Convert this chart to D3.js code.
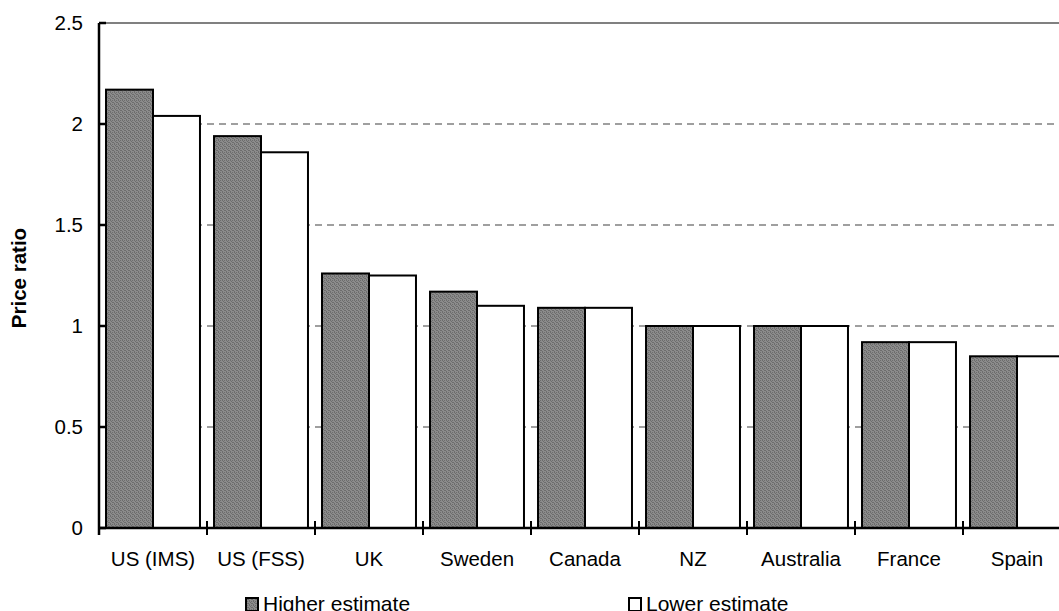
<!DOCTYPE html>
<html>
<head>
<meta charset="utf-8">
<script src="https://cdn.jsdelivr.net/npm/d3@7"></script>
<style>
  body { margin: 0; background: #fff; }
  svg { display: block; font-family: Arial, "Liberation Sans", sans-serif; }
</style>
</head>
<body>
<svg id="chart" width="1059" height="611"></svg>
<script>
const countries = ["US (IMS)", "US (FSS)", "UK", "Sweden", "Canada", "NZ", "Australia", "France", "Spain"];
const higher = [2.17, 1.94, 1.26, 1.17, 1.09, 1.00, 1.00, 0.92, 0.85];
const lower = [2.04, 1.86, 1.25, 1.10, 1.09, 1.00, 1.00, 0.92, 0.85];
const yTicks = [0, 0.5, 1, 1.5, 2, 2.5];
const seriesNames = ["Higher estimate", "Lower estimate"];

const svg = d3.select("#chart");
const margin = { left: 99, top: 23 };
const bandW = 108;
const fs = 20.5;

const x = d3.scaleBand()
    .domain(countries)
    .range([margin.left, margin.left + bandW * countries.length])
    .paddingInner(0.13)
    .paddingOuter(0.065);

const y = d3.scaleLinear()
    .domain([0, 2.5])
    .range([528, margin.top]);

// hatch pattern for the darker bars
const defs = svg.append("defs");
const pat = defs.append("pattern")
    .attr("id", "hatch")
    .attr("patternUnits", "userSpaceOnUse")
    .attr("width", 4).attr("height", 4);
pat.append("rect").attr("width", 4).attr("height", 4).attr("fill", "#8c8c8c");
pat.append("path").attr("d", "M0,0h1v1h-1zM2,0h1v1h-1zM1,1h1v1h-1zM3,2h1v1h-1zM0,3h1v1h-1zM2,2h1v1h-1")
    .attr("fill", "#6c6c6c");

const plotRight = 1080;

// gridlines
svg.append("g")
    .selectAll("line")
    .data(yTicks.filter(d => d > 0))
    .enter().append("line")
    .attr("x1", margin.left).attr("x2", plotRight)
    .attr("y1", d => y(d)).attr("y2", d => y(d))
    .attr("stroke", "#808080")
    .attr("stroke-width", d => d === 2.5 ? 2 : 1.5)
    .attr("stroke-dasharray", d => d === 2.5 ? null : "7,5");

// bars
const sub = d3.scaleBand().domain([0, 1]).range([0, x.bandwidth()]);
const groups = svg.append("g").selectAll("g")
    .data(countries)
    .enter().append("g")
    .attr("transform", d => `translate(${x(d)},0)`);

groups.append("rect")
    .attr("x", sub(0))
    .attr("y", (d, i) => y(higher[i]))
    .attr("width", sub.bandwidth())
    .attr("height", (d, i) => y(0) - y(higher[i]))
    .attr("fill", "url(#hatch)")
    .attr("stroke", "#000")
    .attr("stroke-width", 2);

groups.append("rect")
    .attr("x", sub(1))
    .attr("y", (d, i) => y(lower[i]))
    .attr("width", sub.bandwidth())
    .attr("height", (d, i) => y(0) - y(lower[i]))
    .attr("fill", "#fff")
    .attr("stroke", "#000")
    .attr("stroke-width", 2);

// y axis
const yAxis = svg.append("g")
    .attr("transform", `translate(${margin.left},0)`);
yAxis.append("line")
    .attr("x1", 0).attr("x2", 0)
    .attr("y1", y(2.5)).attr("y2", y(0) + 7)
    .attr("stroke", "#000").attr("stroke-width", 2.5);
yAxis.selectAll(".tick")
    .data(yTicks)
    .enter().append("line")
    .attr("x1", 0).attr("x2", 7)
    .attr("y1", d => y(d)).attr("y2", d => y(d))
    .attr("stroke", "#000").attr("stroke-width", 2.5);
yAxis.selectAll("text")
    .data(yTicks)
    .enter().append("text")
    .attr("x", -16)
    .attr("y", d => y(d))
    .attr("dy", "0.35em")
    .attr("text-anchor", "end")
    .attr("font-size", fs)
    .text(d => d);

// x axis
const xAxis = svg.append("g");
xAxis.append("line")
    .attr("x1", margin.left).attr("x2", plotRight)
    .attr("y1", y(0)).attr("y2", y(0))
    .attr("stroke", "#000").attr("stroke-width", 2.5);
xAxis.selectAll(".tick")
    .data(countries)
    .enter().append("line")
    .attr("x1", d => x(d) - x.step() * x.paddingInner() / 2)
    .attr("x2", d => x(d) - x.step() * x.paddingInner() / 2)
    .attr("y1", y(0) - 7).attr("y2", y(0) + 7)
    .attr("stroke", "#000").attr("stroke-width", 2);
xAxis.selectAll("text")
    .data(countries)
    .enter().append("text")
    .attr("x", d => x(d) + x.bandwidth() / 2)
    .attr("y", 566)
    .attr("text-anchor", "middle")
    .attr("font-size", fs)
    .text(d => d);

// y title
svg.append("text")
    .attr("transform", "translate(26,278) rotate(-90)")
    .attr("text-anchor", "middle")
    .attr("font-size", fs)
    .attr("font-weight", "bold")
    .text("Price ratio");

// legend
const legendX = [245, 628];
const legend = svg.append("g").selectAll("g")
    .data(seriesNames)
    .enter().append("g")
    .attr("transform", (d, i) => `translate(${legendX[i]},597)`);
legend.append("rect")
    .attr("x", 1).attr("y", 1)
    .attr("width", 12).attr("height", 13)
    .attr("fill", (d, i) => i === 0 ? "url(#hatch)" : "#fff")
    .attr("stroke", "#000").attr("stroke-width", 2);
legend.append("text")
    .attr("x", 18)
    .attr("y", 14)
    .attr("font-size", 21)
    .text(d => d);
</script>
</body>
</html>
